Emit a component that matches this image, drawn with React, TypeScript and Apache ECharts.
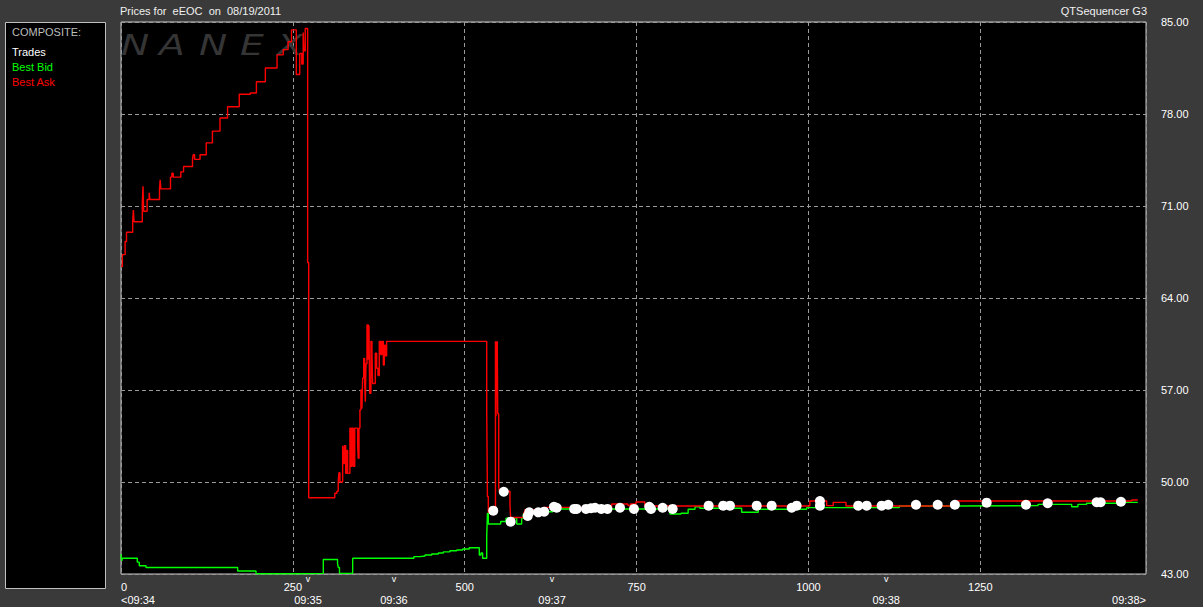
import React, { useEffect, useRef } from 'react';
import * as echarts from 'echarts';

const X_MAX = 1491;
const X_TICK = 250;
const Y_MIN = 43;
const Y_MAX = 85;
const Y_TICK = 7;

const TIME_POS = [0, 272, 397, 627, 1113, 1491];
const TIME_LABELS = ['<09:34', '09:35', '09:36', '09:37', '09:38', '09:38>'];
const MARK_POS = [272, 397, 627, 1113];

const TITLE = 'Prices for  eEOC  on  08/19/2011';
const SUBTITLE = 'QTSequencer G3';
const LEGEND_HEAD = 'COMPOSITE:';
const LEGEND_ITEMS = ['Trades', 'Best Bid', 'Best Ask'];
const LEGEND_COLORS = ['#ffffff', '#00ff00', '#ff0000'];
const WATERMARK = ['N', 'A', 'N', 'E', 'X'];

const ASK: [number, number][] = [
  [0, 66.4], [2, 67.3], [6, 68.3], [8, 69.0], [17, 69.8], [18, 70.7], [19, 69.8], [31, 71.2], [32, 72.5], [33, 70.6],
  [38, 71.5], [41, 72.0], [42, 71.5], [56, 72.3], [57, 73.0], [58, 72.3], [72, 73.2], [74, 73.5], [76, 73.2], [87, 73.6],
  [91, 74.0], [104, 74.55], [105, 74.9], [107, 74.55], [115, 74.9], [124, 75.8], [133, 76.7], [144, 77.7], [155, 78.55],
  [172, 79.5], [188, 79.6], [197, 80.45], [210, 81.5], [227, 82.5], [236, 82.9], [243, 83.5], [248, 84.4], [255, 81.0],
  [260, 82.6], [263, 81.8], [265, 84.2], [266, 82.8], [268, 84.5], [271.5, 66.7], [273, 48.8],
  [311, 49.14], [314, 49.3], [316, 50.0], [317, 50.7], [318.5, 50.0], [322.4, 52.76], [323.4, 51.4], [324.8, 52.76],
  [326.8, 50.66], [328.2, 52.4], [329.7, 50.66], [333, 54.1], [334.5, 51.2], [336, 54.1], [338, 51.2], [340, 54.1],
  [344.2, 52.9], [345, 51.8], [346.2, 54.1], [347.6, 55.5], [349, 57.0], [350.5, 55.6], [351.5, 57.9], [353, 59.4],
  [354.5, 57.5], [355.4, 56.1], [356.4, 59.0], [357.8, 61.95], [359.7, 59.3], [360.7, 61.9], [361.7, 56.75], [363.6, 60.7],
  [365, 59.9], [366, 57.5], [369.9, 59.8], [371.9, 58.65], [373.8, 58.1], [375.7, 60.7], [377.7, 59.7], [379.6, 60.7],
  [381.6, 58.9], [383, 60.4], [384.4, 59.6], [386.4, 60.7],
  [532, 55.3], [533, 48.9], [534.3, 47.7], [544.7, 60.7], [545.5, 55.0], [546.2, 60.7], [547, 57.5], [547.3, 60.7],
  [548, 55.2], [549.4, 49.7], [550.3, 49.3], [565.8, 48.25], [566.8, 47.3], [586.2, 47.7], [587.6, 47.9], [614.3, 48.07],
  [713.7, 48.33], [737.5, 48.2], [740.8, 48.33], [749, 48.48], [762, 48.17], [1002, 48.55], [1026.5, 48.2], [1036, 48.45],
  [1054.5, 48.17], [1214.5, 48.55], [1470, 48.63], [1479, 48.63],
];

const BID: [number, number][] = [
  [0, 44.5], [1, 44.0], [2, 44.2], [23.7, 43.9], [26.6, 43.63], [36.4, 43.5], [169.7, 43.23], [196.4, 43.02],
  [260.4, 43.05], [294.3, 44.1], [315, 43.8], [316, 43.5], [317.8, 43.05], [337, 44.2], [426, 44.32], [435, 44.37],
  [442.2, 44.45], [452, 44.52], [461.5, 44.6], [468.8, 44.68], [478.5, 44.77], [488.3, 44.83], [497, 44.9], [506.6, 45.0],
  [521.2, 44.45], [523.6, 44.6], [526, 44.2], [532, 45.9], [533, 47.6], [534.3, 46.8], [552.3, 47.0], [560, 47.25],
  [575.6, 46.8], [582.8, 47.25], [585.2, 47.56], [587.6, 47.74], [628, 47.95], [798.5, 47.56], [814.5, 47.62],
  [825, 47.93], [835, 48.12], [842, 48.0], [902.8, 47.7], [927, 47.93], [997.4, 48.05], [1132, 48.17], [1210.6, 48.2],
  [1334, 48.3], [1382.8, 48.12], [1392, 48.3], [1404.6, 48.38], [1460.4, 48.45], [1479, 48.45],
];

const TRADES: [number, number][] = [
  [541.5, 47.82], [556.8, 49.26], [566.8, 46.98], [591.6, 47.41], [593.9, 47.69], [607, 47.69], [615.6, 47.74],
  [629.8, 48.12], [633.7, 48.04], [659.2, 47.95], [662.8, 47.95], [676.4, 47.95], [683.6, 48.0], [689.5, 48.04],
  [698.6, 47.95], [707.6, 47.95], [725.8, 48.04], [746.2, 47.95], [768.4, 48.12], [771, 47.95], [787.9, 48.04],
  [802.5, 47.95], [854.8, 48.2], [876, 48.2], [885.8, 48.2], [924.7, 48.2], [946.5, 48.2], [975.6, 48.04], [982.8, 48.2],
  [1016.7, 48.55], [1016.7, 48.2], [1072.4, 48.2], [1084.7, 48.2], [1106.5, 48.2], [1116, 48.27], [1156.4, 48.27],
  [1188, 48.27], [1213, 48.27], [1259.2, 48.43], [1316.4, 48.27], [1348, 48.38], [1419.2, 48.46], [1425, 48.46],
  [1454.5, 48.5],
];

const FONT = '"Liberation Sans", Arial, sans-serif';

export default function App() {
  const ref = useRef<HTMLDivElement>(null);
  useEffect(() => {
    const chart = echarts.init(ref.current!, null, { renderer: 'svg' });
    const wmX = [121, 159, 199, 240, 277];
    chart.setOption({
      animation: false,
      backgroundColor: '#3a3a3a',
      textStyle: { fontFamily: FONT },
      grid: {
        left: 121, top: 22, width: 1025, height: 552, show: true,
        backgroundColor: '#000000', borderColor: '#c8c8c8', borderWidth: 1,
      },
      xAxis: [
        {
          type: 'value', min: 0, max: X_MAX, interval: X_TICK, position: 'bottom',
          axisLine: { show: false }, axisTick: { show: false },
          axisLabel: {
            color: '#ffffff', fontSize: 11, margin: 7, showMaxLabel: false, fontFamily: FONT,
            formatter: (v: number) => String(v), alignMinLabel: 'left',
          },
          splitLine: { show: true, lineStyle: { color: '#9a9a9a', type: [4, 3], width: 1 } },
        },
        {
          type: 'value', min: 0, max: X_MAX, position: 'bottom',
          axisLine: { show: false }, axisTick: { show: false }, splitLine: { show: false },
          axisLabel: {
            customValues: TIME_POS,
            formatter: (v: number) => TIME_LABELS[TIME_POS.indexOf(v)] ?? '',
            color: '#ffffff', fontSize: 11, margin: 20, fontFamily: FONT,
            alignMinLabel: 'left', alignMaxLabel: 'right',
          },
        },
        {
          type: 'value', min: 0, max: X_MAX, position: 'bottom',
          axisLine: { show: false }, axisTick: { show: false }, splitLine: { show: false },
          axisLabel: {
            customValues: MARK_POS, formatter: () => 'v',
            color: '#ffffff', fontSize: 9, margin: 0, fontFamily: FONT,
          },
        },
      ],
      yAxis: {
        type: 'value', min: Y_MIN, max: Y_MAX, interval: Y_TICK, position: 'right',
        axisLine: { show: false }, axisTick: { show: false },
        axisLabel: { color: '#ffffff', fontSize: 11, margin: 15, formatter: (v: number) => v.toFixed(2), fontFamily: FONT },
        splitLine: { show: true, lineStyle: { color: '#9a9a9a', type: [4, 3], width: 1 } },
      },
      graphic: [
        ...WATERMARK.map((ch, i) => ({
          type: 'text', x: wmX[i], y: 45, z: 1, silent: true, scaleX: 1.3,
          style: { text: ch, fill: '#353535', font: 'italic 29px "DejaVu Sans", sans-serif', verticalAlign: 'middle', textAlign: 'left' },
        })),
        {
          type: 'text', x: 120, y: 11, z: 10,
          style: { text: TITLE, fill: '#f0f0f0', font: `11px ${FONT}`, verticalAlign: 'middle', textAlign: 'left' },
        },
        {
          type: 'text', x: 1147, y: 11, z: 10,
          style: { text: SUBTITLE, fill: '#f0f0f0', font: `11px ${FONT}`, verticalAlign: 'middle', textAlign: 'right' },
        },
        {
          type: 'rect', z: 5,
          shape: { x: 5.5, y: 22.5, width: 100, height: 566 },
          style: { fill: '#000000', stroke: '#c0c0c0', lineWidth: 1 },
        },
        {
          type: 'text', x: 12, y: 32, z: 10,
          style: { text: LEGEND_HEAD, fill: '#bdbdbd', font: `11px ${FONT}`, verticalAlign: 'middle', textAlign: 'left' },
        },
        ...LEGEND_ITEMS.map((name, i) => ({
          type: 'text', x: 12, y: 52 + i * 15, z: 10,
          style: { text: name, fill: LEGEND_COLORS[i], font: `11px ${FONT}`, verticalAlign: 'middle', textAlign: 'left' },
        })),
      ],
      series: [
        {
          name: 'Best Bid', type: 'line', step: 'end', data: BID, symbol: 'none', z: 2,
          lineStyle: { color: '#00ff00', width: 1.4 },
        },
        {
          name: 'Best Ask', type: 'line', step: 'end', data: ASK, symbol: 'none', z: 3,
          lineStyle: { color: '#ff0000', width: 1.4 },
        },
        {
          name: 'Trades', type: 'scatter', data: TRADES, symbol: 'circle', symbolSize: 10, z: 4,
          itemStyle: { color: '#ffffff', opacity: 1 },
        },
      ],
    });
    return () => chart.dispose();
  }, []);
  return <div ref={ref} style={{ position: 'absolute', left: 0, top: 0, width: 1203, height: 607 }} />;
}
